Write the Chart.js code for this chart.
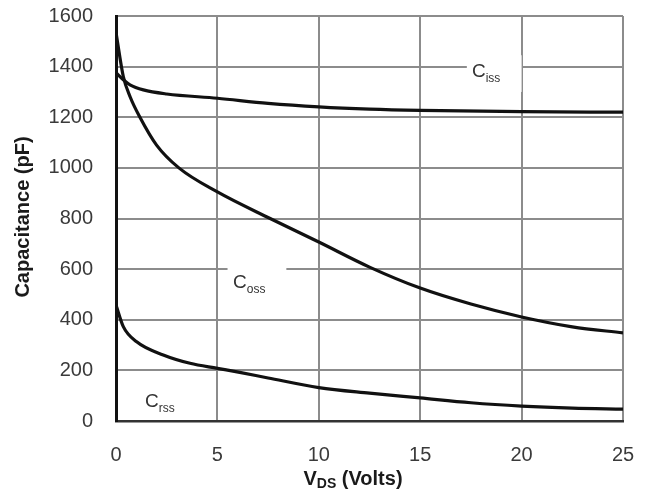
<!DOCTYPE html>
<html>
<head>
<meta charset="utf-8">
<script src="https://cdn.jsdelivr.net/npm/chart.js@4/dist/chart.umd.min.js"></script>
<style>
    html, body { margin: 0; padding: 0; background: #fff; }
    #wrap { width: 645px; height: 495px; }
</style>
</head>
<body>
<div id="wrap"><canvas id="capChart" width="645" height="495"></canvas></div>
<script>
// Tick values for both axes
const xTicks = [0, 5, 10, 15, 20, 25];
const yTicks = [0, 200, 400, 600, 800, 1000, 1200, 1400, 1600];

// Drain-source voltage (V) and capacitance (pF) for each curve
const cissV  = [0, 0.36, 0.69, 1.35, 2.5, 5, 7.5, 10, 12.5, 15, 20, 25];
const cissPF = [1376, 1348, 1328, 1308, 1292, 1275, 1255, 1241, 1232, 1227, 1222, 1220];

const cossV  = [0, 0.36, 0.7, 1.18, 2, 3.1, 5, 7.6, 10, 12.5, 15, 17.5, 20, 22.5, 25];
const cossPF = [1535, 1361, 1280, 1200, 1090, 1000, 905, 800, 707, 608, 525, 462, 411, 372, 348];

const crssV  = [0, 0.36, 1.02, 2.33, 3.65, 5, 6.1, 7.5, 10, 12.5, 15, 17.5, 20, 22.5, 25];
const crssPF = [458, 373, 313, 261, 228, 208, 192, 170, 132, 110, 91, 72, 59, 51, 47];

// Curve names, drawn as C + subscript inside the plot
const curveNames = [
    { main: 'C', sub: 'iss', x: 17.55, y: 1360, box: [17.3, 20.0, 1445, 1300] },
    { main: 'C', sub: 'oss', x: 5.77, y: 526, box: [5.5, 8.4, 612, 480] },
    { main: 'C', sub: 'rss', x: 1.43, y: 55, box: [1.2, 3.4, 130, 30] }
];

const FONT = '"Liberation Sans", Arial, sans-serif';

function toPoints(xs, ys) {
    return xs.map((x, i) => ({ x: x, y: ys[i] }));
}

function curve(label, xs, ys) {
    return {
        label: label,
        data: toPoints(xs, ys),
        borderColor: '#111',
        borderWidth: 3.2,
        pointRadius: 0,
        fill: false,
        cubicInterpolationMode: 'monotone'
    };
}

// White boxes under the curve names, then the names themselves
const curveLabels = {
    id: 'curveLabels',
    beforeDatasetsDraw(chart) {
        const { ctx, scales: { x, y } } = chart;
        ctx.save();
        ctx.fillStyle = '#fff';
        curveNames.forEach(n => {
            const l = x.getPixelForValue(n.box[0]);
            const r = x.getPixelForValue(n.box[1]);
            const t = y.getPixelForValue(n.box[2]);
            const b = y.getPixelForValue(n.box[3]);
            ctx.fillRect(l, t, r - l, b - t);
        });
        ctx.restore();
    },
    afterDatasetsDraw(chart) {
        const { ctx, scales: { x, y } } = chart;
        ctx.save();
        ctx.fillStyle = '#333';
        ctx.textBaseline = 'alphabetic';
        curveNames.forEach(n => {
            const px = x.getPixelForValue(n.x);
            const py = y.getPixelForValue(n.y);
            ctx.font = '19px ' + FONT;
            ctx.fillText(n.main, px, py);
            const w = ctx.measureText(n.main).width;
            ctx.font = '12px ' + FONT;
            ctx.fillText(n.sub, px + w, py + 5);
        });
        ctx.restore();
    }
};

// Axis titles (the x title carries a subscript)
const axisTitles = {
    id: 'axisTitles',
    afterDraw(chart) {
        const { ctx } = chart;
        ctx.save();
        ctx.fillStyle = '#1a1a1a';

        ctx.font = 'bold 20px ' + FONT;
        ctx.translate(29, 217);
        ctx.rotate(-Math.PI / 2);
        ctx.textAlign = 'center';
        ctx.textBaseline = 'alphabetic';
        ctx.fillText('Capacitance (pF)', 0, 0);
        ctx.setTransform(1, 0, 0, 1, 0, 0);

        const parts = [
            { t: 'V', f: 'bold 20px ' + FONT, dy: 0 },
            { t: 'DS', f: 'bold 14px ' + FONT, dy: 3 },
            { t: ' (Volts)', f: 'bold 20px ' + FONT, dy: 0 }
        ];
        let total = 0;
        parts.forEach(p => { ctx.font = p.f; p.w = ctx.measureText(p.t).width; total += p.w; });
        let cx = 353 - total / 2;
        const base = 485;
        ctx.textAlign = 'left';
        parts.forEach(p => {
            ctx.font = p.f;
            ctx.fillText(p.t, cx, base + p.dy);
            cx += p.w;
        });
        ctx.restore();
    }
};

function createCapChart() {
    const ctx = document.getElementById('capChart').getContext('2d');
    const tickFont = { family: FONT, size: 20 };
    return new Chart(ctx, {
        type: 'line',
        data: {
            datasets: [
                curve('Ciss', cissV, cissPF),
                curve('Coss', cossV, cossPF),
                curve('Crss', crssV, crssPF)
            ]
        },
        options: {
            responsive: false,
            animation: false,
            layout: { padding: 0 },
            scales: {
                x: {
                    type: 'linear',
                    min: xTicks[0],
                    max: xTicks[xTicks.length - 1],
                    afterBuildTicks: s => { s.ticks = xTicks.map(v => ({ value: v })); },
                    // fixed axis band; keep the plot's right edge 22px from the canvas
                    afterFit: s => { s.height = 74; s.paddingLeft = 0; s.paddingRight = 22; },
                    ticks: { color: '#3a3a3a', font: tickFont, padding: 22, maxRotation: 0, callback: v => String(v) },
                    grid: { color: '#8c8c8c', lineWidth: 2, drawTicks: false },
                    border: { color: '#333', width: 2.5 }
                },
                y: {
                    min: yTicks[0],
                    max: yTicks[yTicks.length - 1],
                    afterBuildTicks: s => { s.ticks = yTicks.map(v => ({ value: v })); },
                    afterFit: s => { s.width = 116; s.paddingTop = 16; s.paddingBottom = 0; },
                    ticks: { color: '#3a3a3a', font: tickFont, padding: 23, callback: v => String(v) },
                    grid: { color: '#8c8c8c', lineWidth: 2, drawTicks: false },
                    border: { color: '#111', width: 3 }
                }
            },
            plugins: {
                legend: { display: false },
                tooltip: { enabled: false }
            }
        },
        plugins: [curveLabels, axisTitles]
    });
}

createCapChart();
</script>
</body>
</html>
